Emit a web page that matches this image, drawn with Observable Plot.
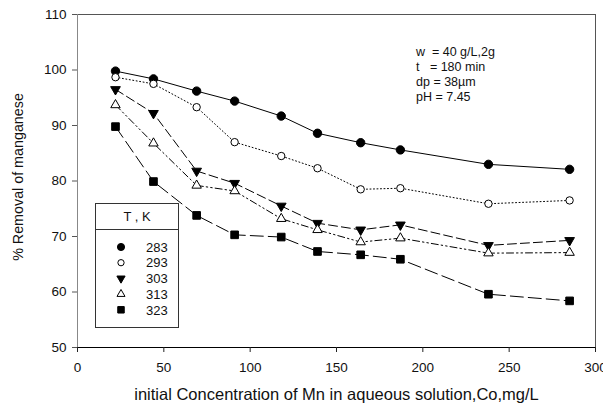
<!DOCTYPE html>
<html>
<head>
<meta charset="utf-8">
<script src="https://cdn.jsdelivr.net/npm/d3@7"></script>
<script src="https://cdn.jsdelivr.net/npm/@observablehq/plot@0.6"></script>
<style>
  html, body { margin: 0; padding: 0; background: #fff; }
  #chart { width: 603px; height: 405px; }
  svg { font-family: Arial, "Liberation Sans", sans-serif; }
</style>
</head>
<body>
<div id="chart"></div>
<script>
// Initial Mn concentration (mg/L)
const conc = [22, 44, 69, 91, 118, 139, 164, 187, 238, 285];

// % removal of manganese at each temperature
const temps = ["283", "293", "303", "313", "323"];
const r283 = [99.8, 98.4, 96.2, 94.4, 91.7, 88.6, 86.9, 85.6, 83.0, 82.1];
const r293 = [98.7, 97.5, 93.3, 87.0, 84.5, 82.3, 78.5, 78.7, 75.9, 76.5];
const r303 = [96.5, 92.2, 81.8, 79.6, 75.5, 72.4, 71.2, 72.1, 68.4, 69.3];
const r313 = [93.7, 86.8, 79.2, 78.2, 73.2, 71.2, 69.0, 69.7, 67.0, 67.1];
const r323 = [89.8, 79.9, 73.8, 70.3, 69.9, 67.3, 66.7, 65.9, 59.6, 58.4];

const xTicks = [0, 50, 100, 150, 200, 250, 300];
const yTicks = [50, 60, 70, 80, 90, 100, 110];

const notes = ["w\u00a0\u00a0= 40 g/L,2g", "t\u00a0\u00a0\u00a0= 180 min", "dp = 38\u00b5m", "pH = 7.45"];
const legendTitle = "T , K";
const xLabel = "initial Concentration of Mn in aqueous solution,Co,mg/L";
const yLabel = "% Removal of manganese";

// downward-pointing triangle
const triangleDown = {
  draw(context, size) {
    const y = -Math.sqrt(size / (Math.sqrt(3) * 3));
    context.moveTo(0, -y * 2);
    context.lineTo(-Math.sqrt(3) * y, y);
    context.lineTo(Math.sqrt(3) * y, y);
    context.closePath();
  }
};

const styles = {
  "283": {symbol: "circle", fill: "black", r: 4.2, dash: null},
  "293": {symbol: "circle", fill: "white", r: 3.7, dash: "1,2.5"},
  "303": {symbol: triangleDown, fill: "black", r: 3.6, dash: "9,4"},
  "313": {symbol: "triangle", fill: "white", r: 3.5, dash: "7,3,1.5,3,1.5,3"},
  "323": {symbol: "square", fill: "black", r: 4.3, dash: "13,5"}
};

const values = {"283": r283, "293": r293, "303": r303, "313": r313, "323": r323};
const rows = temps.flatMap(t => conc.map((c, i) => ({T: t, conc: c, removal: values[t][i]})));

const marks = [];
for (const t of temps) {
  const data = rows.filter(d => d.T === t);
  const s = styles[t];
  marks.push(Plot.line(data, {x: "conc", y: "removal", stroke: "black", strokeWidth: 1, strokeDasharray: s.dash}));
}
for (const t of temps) {
  const data = rows.filter(d => d.T === t);
  const s = styles[t];
  marks.push(Plot.dot(data, {x: "conc", y: "removal", symbol: s.symbol, r: s.r, fill: s.fill, stroke: "black", strokeWidth: 1}));
}

const plot = Plot.plot({
  width: 603,
  height: 405,
  marginLeft: 77,
  marginRight: 8,
  marginTop: 14,
  marginBottom: 58,
  style: {fontFamily: "Arial, 'Liberation Sans', sans-serif", fontSize: "13.5px", color: "#111", background: "white"},
  x: {domain: [0, 300]},
  y: {domain: [50, 110]},
  marks: [
    Plot.frame({stroke: "#555"}),
    Plot.ruleX([0], {stroke: "#888"}),
    Plot.ruleY([50], {stroke: "black"}),
    Plot.axisX({ticks: xTicks, tickSize: 5, tickPadding: 10, label: null, stroke: "#222", fontSize: 13.5}),
    Plot.axisY({ticks: yTicks, tickSize: 5, tickPadding: 6, label: null, stroke: "#555", fontSize: 13.5}),
    ...marks,
    Plot.text([xLabel], {frameAnchor: "bottom", dy: 47, lineAnchor: "middle", fontSize: 16.5, textAnchor: "middle", fill: "#111"}),
    Plot.text([yLabel], {frameAnchor: "left", dx: -59, dy: -4, rotate: -90, textAnchor: "middle", fontSize: 14.3, fill: "#111"})
  ]
});

document.getElementById("chart").appendChild(plot);

// Annotation block with experimental conditions
const svg = d3.select(plot);
const noteG = svg.append("g").attr("font-size", 12.5).attr("fill", "#111").attr("text-anchor", "start");
notes.forEach((n, i) => {
  noteG.append("text").attr("x", 416).attr("y", 56 + i * 15).text(n);
});

// Legend box
const lg = svg.append("g");
lg.append("rect").attr("x", 95.5).attr("y", 203.5).attr("width", 83).attr("height", 124)
  .attr("fill", "white").attr("stroke", "#333");
lg.append("line").attr("x1", 95.5).attr("x2", 178.5).attr("y1", 229.5).attr("y2", 229.5).attr("stroke", "#333");
lg.append("text").attr("x", 137).attr("y", 221).attr("text-anchor", "middle").attr("font-size", 13).attr("fill", "#111").text(legendTitle);
temps.forEach((t, i) => {
  const s = styles[t];
  const cy = 247 + i * 15.7;
  const type = typeof s.symbol === "string"
    ? {circle: d3.symbolCircle, triangle: d3.symbolTriangle, square: d3.symbolSquare}[s.symbol]
    : s.symbol;
  const rr = s.r * 0.85;
  lg.append("path")
    .attr("transform", `translate(121,${cy})`)
    .attr("d", d3.symbol(type, rr * rr * Math.PI)())
    .attr("fill", s.fill).attr("stroke", "black");
  lg.append("text").attr("x", 146).attr("y", cy + 4.7).attr("text-anchor", "start")
    .attr("font-size", 13).attr("fill", "#111").text(t);
});
</script>
</body>
</html>
